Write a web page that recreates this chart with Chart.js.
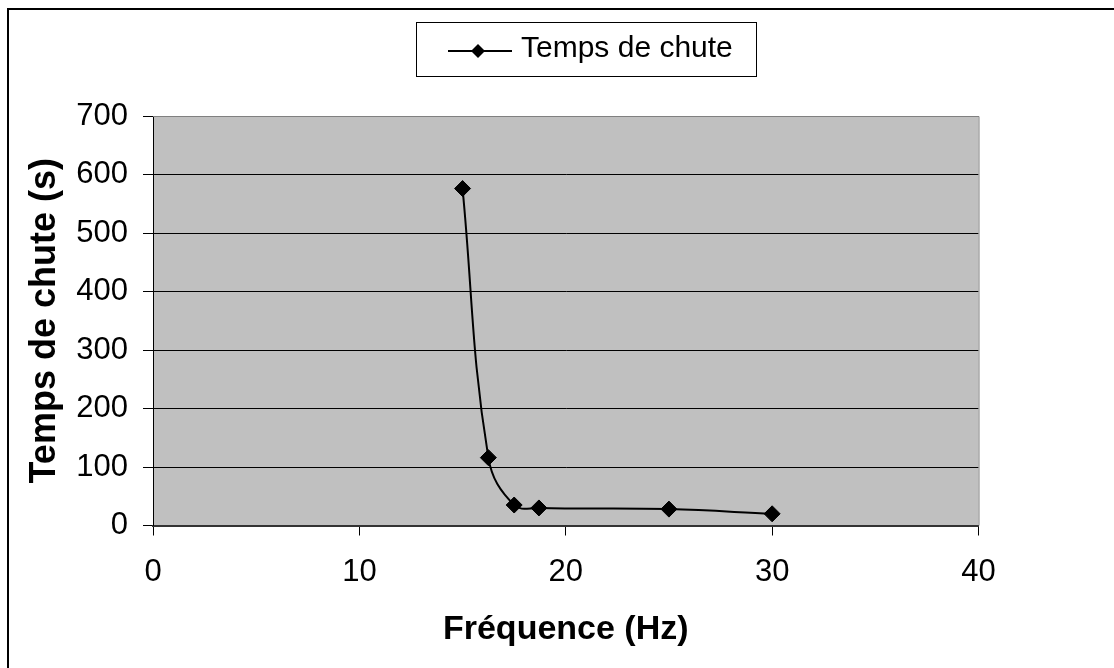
<!DOCTYPE html>
<html>
<head>
<meta charset="utf-8">
<script src="https://cdn.jsdelivr.net/npm/chart.js@4/dist/chart.umd.min.js"></script>
<style>
  html, body { margin: 0; padding: 0; background: #fff; }
  #wrap { width: 1114px; height: 668px; position: relative; }
</style>
</head>
<body>
<div id="wrap"><canvas id="c" width="1114" height="668"></canvas></div>
<script>
const seriesName = 'Temps de chute';
const frequences = [15, 16.25, 17.5, 18.7, 25, 30];
const tempsChute = [576, 116, 35, 30, 28, 20];
const xTitle = 'Fréquence (Hz)';
const yTitle = 'Temps de chute (s)';

const FONT = "'Liberation Sans', Arial, sans-serif";

const bgPlugin = {
  id: 'bgPlugin',
  beforeDraw(chart) {
    const {ctx, chartArea: a} = chart;
    ctx.save();
    ctx.fillStyle = '#fff';
    ctx.fillRect(0, 0, chart.width, chart.height);
    ctx.fillStyle = '#c0c0c0';
    ctx.fillRect(a.left, a.top, a.right - a.left, a.bottom - a.top);
    ctx.restore();
  },
  afterDraw(chart) {
    const {ctx, chartArea: a} = chart;
    ctx.save();
    ctx.strokeStyle = '#808080';
    ctx.lineWidth = 1;
    ctx.beginPath();
    ctx.moveTo(a.left, a.top + 0.5);
    ctx.lineTo(a.right + 0.5, a.top + 0.5);
    ctx.lineTo(a.right + 0.5, a.bottom);
    ctx.stroke();
    ctx.strokeStyle = '#000';
    ctx.lineWidth = 2;
    ctx.strokeRect(8, 9, 1300, 900);
    const ds = chart.data.datasets[0];
    ctx.lineWidth = 1;
    ctx.strokeStyle = '#000';
    ctx.fillStyle = '#fff';
    ctx.fillRect(416, 22, 340, 54);
    ctx.strokeRect(416.5, 22.5, 340, 54);
    ctx.lineWidth = 2;
    ctx.beginPath();
    ctx.moveTo(448, 51);
    ctx.lineTo(512, 51);
    ctx.stroke();
    ctx.fillStyle = '#000';
    ctx.beginPath();
    ctx.moveTo(478 - 7, 51);
    ctx.lineTo(478, 51 - 7);
    ctx.lineTo(478 + 7, 51);
    ctx.lineTo(478, 51 + 7);
    ctx.closePath();
    ctx.fill();
    ctx.font = '30px ' + FONT;
    ctx.textBaseline = 'alphabetic';
    ctx.textAlign = 'left';
    ctx.fillText(ds.label, 521, 57);
    ctx.restore();
  }
};

new Chart(document.getElementById('c'), {
  type: 'line',
  data: {
    datasets: [{
      label: seriesName,
      data: frequences.map((x, i) => ({x: x, y: tempsChute[i]})),
      borderColor: '#000',
      backgroundColor: '#000',
      borderWidth: 2,
      pointStyle: 'rectRot',
      pointRadius: 8,
      pointBorderWidth: 1,
      pointBackgroundColor: '#000',
      pointBorderColor: '#000',
      tension: 0.4,
      fill: false
    }]
  },
  options: {
    responsive: false,
    animation: false,
    layout: { padding: { top: 116, left: 0, right: 135.5, bottom: 0 } },
    plugins: {
      legend: { display: false },
      tooltip: { enabled: false }
    },
    scales: {
      x: {
        type: 'linear',
        min: 0, max: 40,
        ticks: { stepSize: 10, color: '#000', font: { family: FONT, size: 31 }, padding: 18, maxRotation: 0 },
        grid: { drawOnChartArea: false, drawTicks: true, tickLength: 10, color: '#000', lineWidth: 1 },
        border: { display: true, color: '#333', width: 2 },
        title: { display: true, text: xTitle, color: '#000', font: { family: FONT, size: 34, weight: 'bold' }, padding: { top: 0, bottom: 18 } },
        afterFit(s) { s.height = 668 - 525.5; }
      },
      y: {
        min: 0, max: 700,
        ticks: { stepSize: 100, color: '#000', font: { family: FONT, size: 31 }, padding: 15 },
        grid: { color: '#000', lineWidth: 1, tickLength: 10, drawTicks: true },
        border: { display: true, color: '#000', width: 1 },
        title: { display: true, text: yTitle, color: '#000', font: { family: FONT, size: 36, weight: 'bold' }, padding: { top: 23, bottom: 0 } },
        afterFit(s) { s.width = 153; }
      }
    }
  },
  plugins: [bgPlugin]
});
</script>
</body>
</html>
